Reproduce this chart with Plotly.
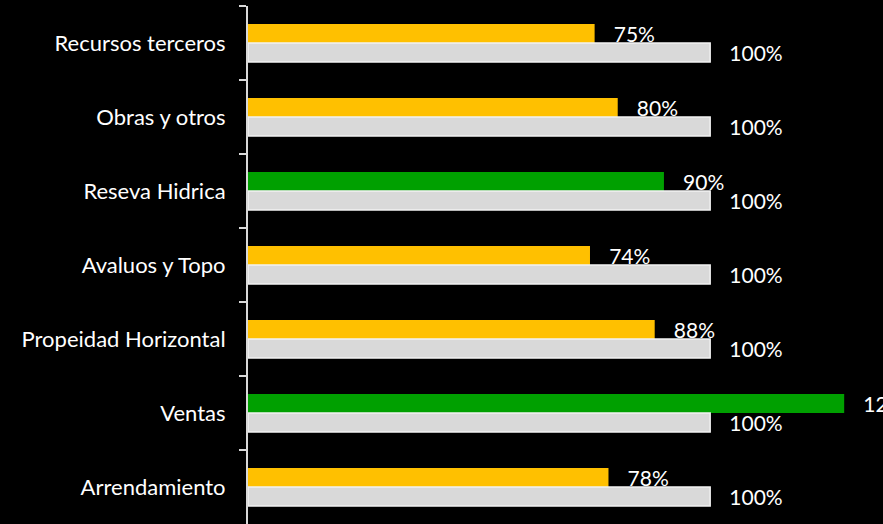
import plotly.graph_objects as go

# Data
categories = ["Recursos terceros", "Obras y otros", "Reseva Hidrica", "Avaluos y Topo",
              "Propeidad Horizontal", "Ventas", "Arrendamiento"]
avance = [0.75, 0.80, 0.90, 0.74, 0.88, 1.29, 0.78]
meta = [1.0, 1.0, 1.0, 1.0, 1.0, 1.0, 1.0]
bar_colors = ["#FFC000", "#FFC000", "#00A000", "#FFC000", "#FFC000", "#00A000", "#FFC000"]

pad = "\u00a0\u00a0\u00a0"
font = dict(family="Lato, Open Sans, sans-serif", size=21, color="white")
label_font = dict(family="Lato, Open Sans, sans-serif", size=22, color="white")

fig = go.Figure()
fig.add_trace(go.Bar(
    y=categories, x=avance, orientation="h",
    marker=dict(color=bar_colors, line=dict(width=0)),
    texttemplate=pad + "%{x:.0%}", textposition="outside", constraintext="none",
    textfont=font, cliponaxis=False, name="Avance"
))
fig.add_trace(go.Bar(
    y=categories, x=meta, orientation="h",
    marker=dict(color="#D9D9D9", line=dict(color="#F2F2F2", width=1.5)),
    texttemplate=pad + "%{x:.0%}", textposition="outside", constraintext="none",
    textfont=font, cliponaxis=False, name="Meta"
))

fig.update_layout(
    width=883, height=524,
    paper_bgcolor="black", plot_bgcolor="black",
    barmode="group", bargap=0.486, bargroupgap=0,
    showlegend=False,
    margin=dict(l=248, r=0, t=6, b=0),
    font=font,
)
fig.update_xaxes(range=[0, 1.374], visible=False, showgrid=False, zeroline=False)
fig.update_yaxes(
    autorange="reversed", showgrid=False, zeroline=False,
    showline=True, linecolor="#D9D9D9", linewidth=2,
    ticks="outside", ticklen=7, tickcolor="#D9D9D9", tickwidth=2,
    tickson="boundaries", ticklabelstandoff=16,
    tickfont=label_font,
)

fig.write_html("out.html", config={"displayModeBar": False},
               post_script="document.body.style.margin='0';")
